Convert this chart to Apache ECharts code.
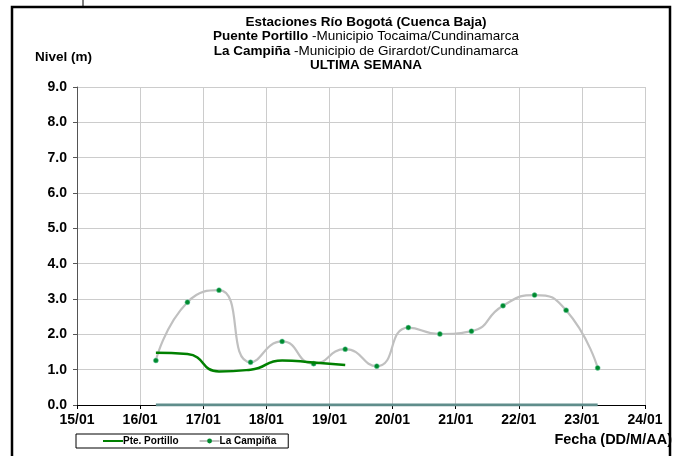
<!DOCTYPE html>
<html>
<head>
<meta charset="utf-8">
<script src="https://cdn.jsdelivr.net/npm/echarts@6/dist/echarts.min.js"></script>
<style>
  html, body { margin: 0; padding: 0; background: #fff; }
  #chart { width: 679px; height: 456px; }
</style>
</head>
<body>
<div id="chart"></div>
<script>
// dias (15 = 15/01), medidas cada 12 horas
var campinaDays = [16.25, 16.75, 17.25, 17.75, 18.25, 18.75, 19.25, 19.75, 20.25, 20.75, 21.25, 21.75, 22.25, 22.75, 23.25]
var campinaLevel = [1.26, 2.91, 3.25, 1.21, 1.80, 1.17, 1.58, 1.10, 2.19, 2.01, 2.09, 2.81, 3.11, 2.68, 1.05]
var portilloDays = [16.25, 16.75, 17.25, 17.75, 18.25, 18.75, 19.25]
var portilloLevel = [1.48, 1.44, 0.95, 1.00, 1.26, 1.20, 1.13]
var zeroDays = [16.25, 23.25]
var zeroLevel = [0, 0]
var yTicks = ['0.0', '1.0', '2.0', '3.0', '4.0', '5.0', '6.0', '7.0', '8.0', '9.0']
var xTicks = ['15/01', '16/01', '17/01', '18/01', '19/01', '20/01', '21/01', '22/01', '23/01', '24/01']

function pairs (xs, ys) {
  var out = []
  for (var i = 0; i < xs.length; i++) out.push([xs[i], ys[i]])
  return out
}

var font = 'Liberation Sans, Arial, sans-serif'
var myChart = echarts.init(document.getElementById('chart'))
myChart.setOption({
  animation: false,
  textStyle: { fontFamily: font },
  title: {
    left: 361,
    top: 10,
    textAlign: 'center',
    text: '{b|Estaciones Río Bogotá (Cuenca Baja)}\n{b|Puente Portillo}{r| -Municipio Tocaima/Cundinamarca}\n{b|La Campiña}{r| -Municipio de Girardot/Cundinamarca}\n{b|ULTIMA SEMANA}',
    textStyle: {
      rich: {
        b: { fontFamily: font, fontSize: 13.5, fontWeight: 'bold', color: '#000', lineHeight: 14.5 },
        r: { fontFamily: font, fontSize: 13.5, fontWeight: 'normal', color: '#000', lineHeight: 14.5 }
      }
    }
  },
  legend: {
    left: 76,
    top: 434,
    padding: [2, 12, 2, 26],
    itemGap: 20,
    itemWidth: 20,
    itemHeight: 6,
    borderColor: '#000',
    borderWidth: 1,
    data: [
      { name: 'Pte. Portillo', itemStyle: { opacity: 0 } },
      { name: 'La Campiña', itemStyle: { borderWidth: 0 } }
    ],
    textStyle: { fontFamily: font, fontSize: 10, fontWeight: 'bold', color: '#000', padding: [0, 0, 0, -5] }
  },
  grid: { left: 77, right: 34, top: 87, bottom: 51 },
  xAxis: {
    type: 'value',
    min: 15,
    max: 24,
    interval: 1,
    axisLine: { lineStyle: { color: '#000', width: 1 } },
    axisTick: { show: true, length: 4, lineStyle: { color: '#000' } },
    axisLabel: {
      margin: 8,
      fontFamily: font,
      fontSize: 14,
      fontWeight: 'bold',
      color: '#000',
      formatter: function (v) { return xTicks[Math.round(v) - 15] }
    },
    splitLine: { show: true, lineStyle: { color: '#cccccc', width: 1 } }
  },
  yAxis: {
    type: 'value',
    min: 0,
    max: 9,
    interval: 1,
    axisLine: { show: true, lineStyle: { color: '#555', width: 1 } },
    axisTick: { show: true, length: 4, lineStyle: { color: '#555' } },
    axisLabel: {
      margin: 10,
      fontFamily: font,
      fontSize: 14,
      fontWeight: 'bold',
      color: '#000',
      formatter: function (v) { return yTicks[Math.round(v)] }
    },
    splitLine: { show: true, lineStyle: { color: '#cccccc', width: 1 } }
  },
  series: [
    {
      name: 'Cero',
      type: 'line',
      data: pairs(zeroDays, zeroLevel),
      showSymbol: false,
      color: '#5f8d8b',
      lineStyle: { width: 3, color: '#5f8d8b' },
      z: 3
    },
    {
      name: 'La Campiña',
      type: 'line',
      data: pairs(campinaDays, campinaLevel),
      smooth: 0.55,
      symbol: 'circle',
      symbolSize: 5,
      color: '#008a2e',
      itemStyle: { color: '#008a2e', borderColor: '#7ad0b0', borderWidth: 0.5 },
      lineStyle: { width: 2.2, color: '#c0c0c0' },
      z: 4
    },
    {
      name: 'Pte. Portillo',
      type: 'line',
      data: pairs(portilloDays, portilloLevel),
      smooth: 0.55,
      showSymbol: false,
      symbol: 'none',
      color: '#008000',
      lineStyle: { width: 2.5, color: '#008000' },
      z: 5
    }
  ],
  graphic: [
    {
      type: 'rect',
      shape: { x: 12, y: 7, width: 658, height: 470 },
      style: { fill: null, stroke: '#000', lineWidth: 2.5 },
      silent: true
    },
    {
      type: 'line',
      shape: { x1: 83, y1: 0, x2: 83, y2: 7 },
      style: { stroke: '#000', lineWidth: 1 },
      silent: true
    },
    {
      type: 'text',
      left: 35,
      top: 50,
      style: { text: 'Nivel (m)', fill: '#000', font: 'bold 13.5px ' + font }
    },
    {
      type: 'text',
      right: 7,
      top: 432,
      style: { text: 'Fecha (DD/M/AA)', fill: '#000', font: 'bold 14.5px ' + font }
    }
  ]
})
</script>
</body>
</html>
